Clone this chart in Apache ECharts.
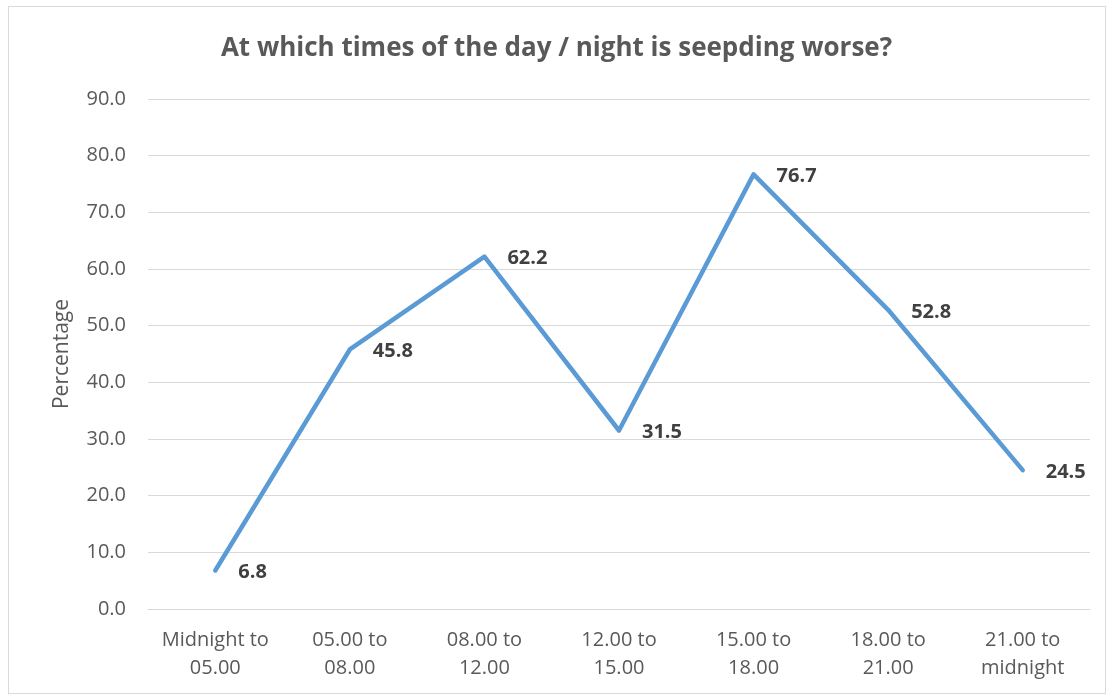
<!DOCTYPE html>
<html>
<head>
<meta charset="utf-8">
<script src="https://cdn.jsdelivr.net/npm/echarts@6/dist/echarts.min.js"></script>
<style>
	html,body{margin:0;padding:0;background:#fff;}
	#frame{position:absolute;left:8px;top:6px;width:1098px;height:688px;border:1px solid #d9d9d9;box-sizing:border-box;}
	#main{position:absolute;left:0;top:0;width:1113px;height:698px;}
</style>
</head>
<body>
<div id="frame"></div>
<div id="main"></div>
<script type="text/javascript">
// categories and values
var categories = ['Midnight to\n05.00', '05.00 to\n08.00', '08.00 to\n12.00', '12.00 to\n15.00', '15.00 to\n18.00', '18.00 to\n21.00', '21.00 to\nmidnight'];
var percentages = [6.8, 45.8, 62.2, 31.5, 76.7, 52.8, 24.5];

var font = 'Open Sans, Noto Sans, sans-serif';
var myChart = echarts.init(document.getElementById('main'));
var option = {
	animation: false,
	title: {
		text: 'At which times of the day / night is seepding worse?',
		left: 'center',
		top: 31,
		textStyle: {fontFamily: font, fontSize: 26, fontWeight: 'bold', color: '#595959'}
	},
	grid: {left: 148, right: 23, top: 99, bottom: 89},
	xAxis: {
		type: 'category',
		data: categories,
		boundaryGap: true,
		axisLine: {lineStyle: {color: '#d9d9d9', width: 1}},
		axisTick: {show: false},
		axisLabel: {interval: 0, fontFamily: font, fontSize: 20, color: '#595959', lineHeight: 28, margin: 17}
	},
	yAxis: {
		type: 'value',
		min: 0,
		max: 90,
		interval: 10,
		name: 'Percentage',
		nameLocation: 'middle',
		nameGap: 75,
		nameTextStyle: {fontFamily: font, fontSize: 21, color: '#595959'},
		axisLine: {show: false},
		axisTick: {show: false},
		splitLine: {lineStyle: {color: '#d9d9d9', width: 1}},
		axisLabel: {fontFamily: font, fontSize: 20, color: '#595959', margin: 22,
			formatter: function (v) { return v.toFixed(1); }}
	},
	series: [{
		type: 'line',
		data: percentages,
		symbol: 'circle',
		symbolSize: 2,
		showSymbol: true,
		itemStyle: {color: '#5b9bd5'},
		lineStyle: {color: '#5b9bd5', width: 4.5, cap: 'round', join: 'round'},
		label: {
			show: true,
			position: 'right',
			distance: 22,
			offset: [0, 2],
			fontFamily: font,
			fontSize: 20,
			fontWeight: 'bold',
			color: '#404040',
			formatter: function (p) { return p.value.toFixed(1); }
		}
	}]
};
myChart.setOption(option);
</script>
</body>
</html>
